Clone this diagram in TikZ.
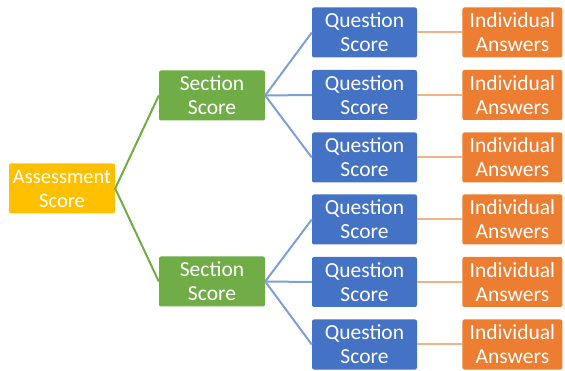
\documentclass[tikz,border=0pt]{standalone}
\usepackage{fontspec}
\setmainfont{Carlito}
\usetikzlibrary{positioning}
\definecolor{assessyellow}{HTML}{FFC000}
\definecolor{sectiongreen}{HTML}{70AD47}
\definecolor{questionblue}{HTML}{4472C4}
\definecolor{answerorange}{HTML}{ED7D31}
\definecolor{bluelink}{HTML}{7F9FD8}
\definecolor{orangelink}{HTML}{F4B183}
\tikzset{
    score-box/.style={
        rectangle,
        rounded corners=2pt,
        text=white,
        align=center,
        inner sep=0pt,
        minimum height=50pt,
        font=\fontsize{21.5}{24}\selectfont
    },
    assess-box/.style={score-box, fill=assessyellow, minimum width=106pt,
        font=\fontsize{20.5}{24}\selectfont},
    section-box/.style={score-box, fill=sectiongreen, minimum width=106pt},
    question-box/.style={score-box, fill=questionblue, minimum width=105pt},
    answer-box/.style={score-box, fill=answerorange, minimum width=100pt},
    green-link/.style={draw=sectiongreen, line width=2pt},
    blue-link/.style={draw=bluelink, line width=2pt},
    orange-link/.style={draw=orangelink, line width=2pt},
}
\begin{document}
\begin{tikzpicture}[x=1pt,y=-1pt]
       \useasboundingbox (0,0) rectangle (565,371);

       \node[assess-box] (assess) at (62,188.5) {Assessment\\Score};

       % Sections
       \node[section-box] (sec1) at (212,95.5) {Section\\Score};
       \node[section-box] (sec2) at (212,281.5) {Section\\Score};

       % Questions
       \node[question-box] (q1) at (364.5,32.5) {Question\\Score};
       \node[question-box] (q2) at (364.5,95) {Question\\Score};
       \node[question-box] (q3) at (364.5,157.5) {Question\\Score};
       \node[question-box] (q4) at (364.5,219.5) {Question\\Score};
       \node[question-box] (q5) at (364.5,282) {Question\\Score};
       \node[question-box] (q6) at (364.5,344.5) {Question\\Score};

       % Answers
       \node[answer-box,right=45pt of q1] (a1) {Individual\\Answers};
       \node[answer-box,right=45pt of q2] (a2) {Individual\\Answers};
       \node[answer-box,right=45pt of q3] (a3) {Individual\\Answers};
       \node[answer-box,right=45pt of q4] (a4) {Individual\\Answers};
       \node[answer-box,right=45pt of q5] (a5) {Individual\\Answers};
       \node[answer-box,right=45pt of q6] (a6) {Individual\\Answers};

       \draw[green-link] (sec1.west) -- (assess.east) -- (sec2.west);

       \draw[blue-link] (sec1.east) -- (q1.west);
       \draw[blue-link] (sec1.east) -- (q2.west);
       \draw[blue-link] (sec1.east) -- (q3.west);
       \draw[blue-link] (sec2.east) -- (q4.west);
       \draw[blue-link] (sec2.east) -- (q5.west);
       \draw[blue-link] (sec2.east) -- (q6.west);

       \draw[orange-link] (q1) -- (a1);
       \draw[orange-link] (q2) -- (a2);
       \draw[orange-link] (q3) -- (a3);
       \draw[orange-link] (q4) -- (a4);
       \draw[orange-link] (q5) -- (a5);
       \draw[orange-link] (q6) -- (a6);

\end{tikzpicture}
\end{document}
